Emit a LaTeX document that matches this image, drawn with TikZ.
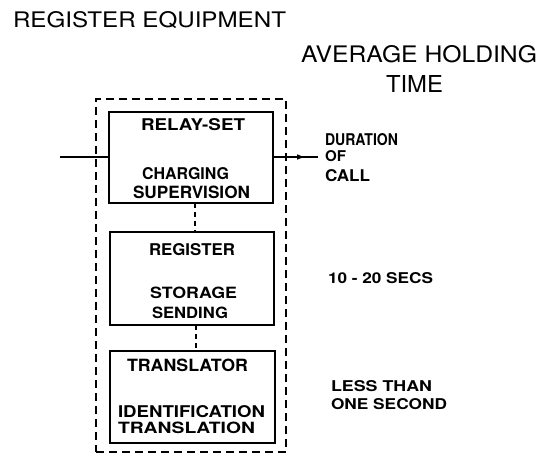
\documentclass[tikz,border=0pt]{standalone}
\usepackage{fontspec}
\setmainfont{TeX Gyre Heros}
\usepackage{graphicx}
\usetikzlibrary{arrows.meta,decorations.markings}
\newcommand{\lettr}[3]{\resizebox{#1pt}{#2pt}{#3}}
\begin{document}
\begin{tikzpicture}[x=1pt,y=-1pt,
  lbl/.style={anchor=base west, inner sep=0pt, outer sep=0pt, font=\fontsize{12}{14}\selectfont},
  blbl/.style={lbl, font=\fontsize{12}{14}\selectfont\bfseries},
  unitbox/.style={draw, line width=1.6pt, inner sep=0pt, outer sep=0pt},
  equipbox/.style={draw, dash pattern=on 8pt off 5pt, line width=1.2pt, inner sep=0pt},
  link/.style={line width=1.2pt, dash pattern=on 5pt off 4pt},
  wire/.style={line width=1.4pt},
  midarrow/.style={postaction={decorate}, decoration={markings,
      mark=at position 0.69 with {\arrow{Triangle[length=7pt,width=5pt]}}}}
]
\useasboundingbox (0,0) rectangle (548,454);

% headings
\node[lbl] (title) at (13,28) {\lettr{273}{16}{REGISTER EQUIPMENT}};
\node[lbl] (avg) at (301,63) {\lettr{236}{17}{AVERAGE HOLDING}};
\node[lbl] (time) at (386,93) {\lettr{57}{17}{TIME}};

% outer dashed enclosure
\node[equipbox, minimum width=190pt, minimum height=353pt] (equip) at (191,275.5) {};

% unit boxes
\node[unitbox, minimum width=164pt, minimum height=91pt] (relay) at (191,157.5) {};
\node[unitbox, minimum width=164pt, minimum height=93pt] (register) at (192,278.5) {};
\node[unitbox, minimum width=165pt, minimum height=92pt] (translator) at (192.5,397) {};

% box texts
\node[blbl] (relaylbl) at (141,131) {\lettr{104}{12}{RELAY-SET}};
\node[blbl] (charging) at (142,180) {\lettr{87}{12}{CHARGING}};
\node[blbl] (supervision) at (133,198) {\lettr{117}{12.5}{SUPERVISION}};
\node[blbl] (registerlbl) at (149,255) {\lettr{86}{12}{REGISTER}};
\node[blbl] (storage) at (150,298) {\lettr{87}{11.5}{STORAGE}};
\node[blbl] (sending) at (152,318) {\lettr{76}{11.5}{SENDING}};
\node[blbl] (translatorlbl) at (127,371) {\lettr{121}{12.5}{TRANSLATOR}};
\node[blbl] (identification) at (118,417) {\lettr{147}{12}{IDENTIFICATION}};
\node[blbl] (translation) at (118,433) {\lettr{137}{11.5}{TRANSLATION}};

% right-hand texts
\node[blbl] (duration) at (325,146) {\lettr{73}{12}{DURATION}};
\node[blbl] (of) at (325,162) {\lettr{21}{11}{OF}};
\node[blbl] (call) at (325,182) {\lettr{45}{12}{CALL}};
\node[blbl] (secs) at (328,283) {\lettr{105}{11}{10 - 20 SECS}};
\node[blbl] (less) at (331,391) {\lettr{101}{11}{LESS THAN}};
\node[blbl] (onesec) at (331,409) {\lettr{116}{11}{ONE SECOND}};

% connectors
\draw[link] ([xshift=4pt]relay.south) -- ([xshift=3pt]register.north);
\draw[link] ([xshift=4pt]register.south) -- ([xshift=3.5pt]translator.north);

\coordinate (inend) at (60,157);
\draw[wire] (inend) -- (inend -| relay.west);
\coordinate (outend) at (318,157);
\draw[wire, midarrow] (relay.east |- outend) -- (outend);
\end{tikzpicture}
\end{document}
